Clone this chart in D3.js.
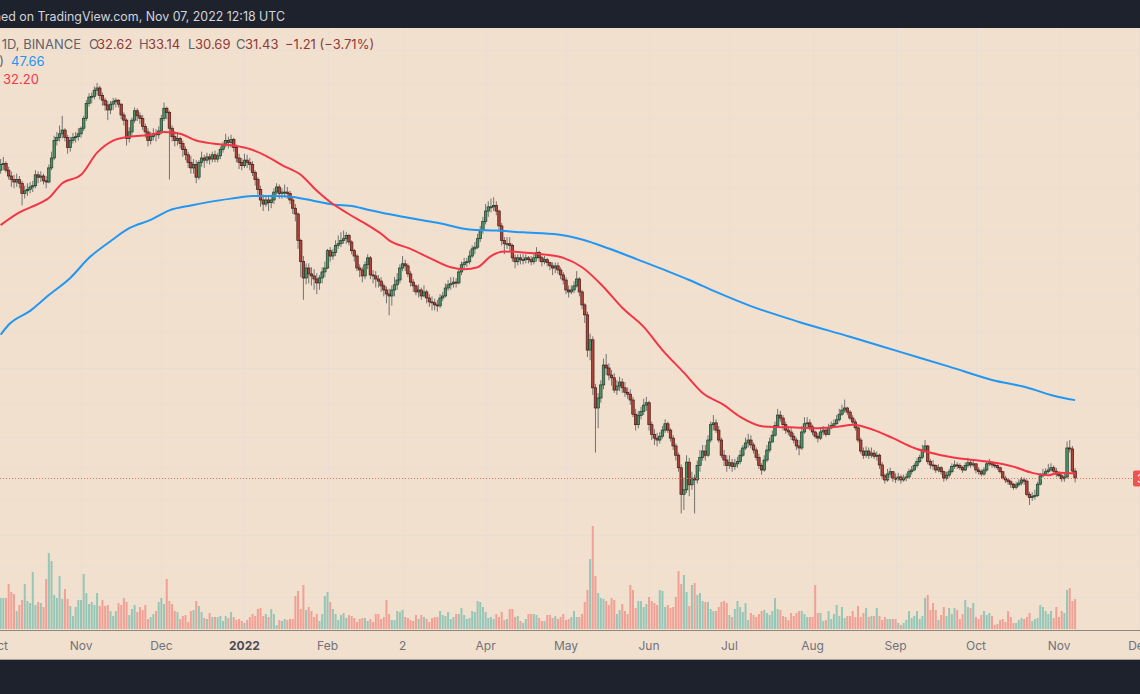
<!DOCTYPE html>
<html><head><meta charset="utf-8">
<script src="https://cdn.jsdelivr.net/npm/d3@7"></script>
<style>
html,body{margin:0;padding:0;background:#1e222d;overflow:hidden;}
svg{display:block;font-family:Inter,"Noto Sans",Roboto,sans-serif;}
</style></head><body>
<svg id="c" width="1140" height="694"></svg>
<script>
// ---------------- DATA (SOL/USDT, 1D, Binance) ----------------
const startDate = "2021-10-01";
const firstOpen = 157;            // open of the first daily candle; later opens = previous close
const closes = [
 163,168,169,163,158,155,153,155,152,144,146,147,149,150,159,157,158,154,153,165,174,191,194,198,202,194,184,191,194,195,198,
 204,215,233,241,242,250,253,243,237,231,225,232,235,237,232,219,213,193,200,213,224,218,215,206,200,191,195,198,197,201,
 215,227,222,204,195,191,193,188,182,177,170,165,168,157,170,174,172,175,173,177,173,176,182,187,191,189,192,184,174,170,167,
 172,170,168,161,155,147,139,136,139,137,139,145,149,144,145,145,144,139,133,129,112,100,91.6,96.6,93.6,92.6,91.1,89.2,91.6,94.6,96.6,
 106,103,105,109,110,112,113,115,111,106,103,96.6,95.6,92.6,98.3,102,93.1,92.6,91.1,90.1,87.8,85.9,84.1,83.2,85.9,88.3,90.6,96.6,
 98.8,97.7,93.6,89.6,87.8,85.0,85.9,83.2,85.0,82.3,80.6,80.2,79.3,78.9,82.3,83.2,86.8,88.3,88.8,89.6,89.2,94.6,98.3,99.4,99.9,103,107,108,113,118,124,
 131,134,134,135,131,121,112,110,110,109,102,99.9,102,101,101,102,101,99.9,102,105,102,99.9,101,99.4,97.7,96.6,97.7,95.6,93.1,90.6,
 85.9,85.0,85.9,87.8,91.1,85.0,79.3,75.2,62.3,65.8,50.9,45.7,48.2,51.7,57.5,56.6,54.5,53.7,50.3,51.4,52.5,50.9,49.7,49.2,47.7,44.2,41.8,43.9,44.9,46.4,47.0,
 41.8,39.7,38.9,38.5,39.3,40.6,42.0,40.6,38.9,37.3,35.5,33.2,28.8,29.5,34.2,30.3,31.4,31.1,33.6,35.1,36.3,35.5,38.5,41.8,42.2,40.6,38.5,35.5,34.6,33.6,
 34.1,33.4,33.9,34.3,35.5,36.9,37.9,38.5,37.5,36.5,35.1,33.6,32.8,34.6,36.5,38.1,39.5,41.6,44.0,43.3,41.8,40.6,40.2,39.3,38.5,37.3,36.9,40.2,42.0,42.2,41.3,
 40.2,39.3,38.9,40.2,40.6,39.7,41.1,41.6,42.0,42.9,44.2,45.2,45.7,44.7,43.3,42.4,41.1,38.5,36.3,35.5,36.3,35.5,35.9,35.3,35.5,33.7,31.8,31.1,32.1,32.5,31.4,
 31.3,31.6,31.1,31.4,31.6,32.5,32.8,33.6,34.3,35.1,36.5,37.3,34.3,33.7,33.6,32.8,33.2,32.5,31.4,31.9,32.5,33.4,33.7,33.6,33.2,32.8,33.6,34.1,33.7,33.9,
 32.8,32.5,32.1,32.8,33.9,34.1,33.7,33.6,33.2,32.5,31.4,31.1,30.8,30.4,29.9,30.3,30.6,31.1,30.9,28.8,28.3,28.5,28.6,30.4,31.8,32.1,32.5,32.8,33.2,32.6,32.1,
 31.8,31.3,31.6,36.9,36.7,32.62,31.43
];
const highs = [
 168,173,175,171,166,162,159,160,158,154,150,152,153,154,163,162,162,160,158,168,180,196,200,207,218,204,197,195,199,200,204,
 206,218,237,246,247,255,260,256,247,240,236,236,240,240,238,233,222,215,205,216,228,227,222,219,209,204,200,204,203,206,
 219,234,229,224,207,201,200,195,191,185,180,176,173,172,172,180,177,179,178,180,181,179,185,190,198,195,197,194,187,178,174,
 178,177,174,171,163,157,150,143,142,142,143,148,152,151,148,151,149,146,141,136,130,113,103,99,99,97,96,94,93,97,100,
 107,108,107,112,115,117,118,117,116,112,107,104,98.5,97,100,104,103,95.5,95,93,92,89,87.5,86.5,88,92,94,98.5,
 103,101,99,95,91,88.5,88.5,87,88,86,84,83,82,81.5,84,85,89,90.5,92,92,91.5,96,100,102,102,106,109,111,116,121,127,
 136,138,140,141,138,132,123,114,114,114,110,104,104,104,104,104,103,103,104,108,106,103,103,102,100,99.5,99.5,99.5,97,94.5,
 92,88,88,90,95,92,86,80,76.5,68,67,52,49.5,53,59.5,61,58,56,55,53,54,53.5,52.5,51,50.5,48.5,45.5,45,46,48,48.5,
 47.5,42.5,40.8,40,40.2,41.5,43,42.5,41,39.5,37.8,36,33.8,31.5,35.5,35,32.5,32,34.5,36.5,37.5,37.5,39.5,42.5,44,43,41.5,39,36.5,35.5,
 35.5,34.8,34.8,35.2,36.5,37.5,39,39.8,39.5,38,37,35.8,34,35.5,37.5,39,40.5,42.5,45.5,45,44,42.5,41.5,41.2,40,39,38.5,41.5,43.5,43.5,43,
 41.8,40.5,40,41,41.5,41,42,42.5,43,44,45.5,46.5,47.8,46,45.2,44,43,41.5,39,37,37.2,37,37,36.5,36.2,35.8,34.2,32.2,33,33.2,32.6,
 32.2,32.3,32,32,32.2,33,33.5,34,35,35.6,37.5,38.5,37.5,34.8,34.6,33.8,33.8,33.5,32.7,32.5,33,34,34.5,34.2,34,33.5,34.2,35,34.6,34.5,
 34,33.3,32.9,33.3,34.3,34.8,34.4,34.2,33.8,33.4,32.6,31.8,31.4,31.1,30.6,30.8,31.2,31.6,31.5,31.2,29.2,29.1,29.5,30.8,32.3,33,33.1,33.9,34,33.6,33.2,
 32.6,32.4,32.2,38.2,38.5,37.3,33.14
];
const lows = [
 154,160,163,161,155,149,148,149,148,135,140,142,144,145,148,152,153,151,148,152,163,172,186,190,193,190,178,180,188,189,191,
 194,201,212,229,233,238,243,238,230,224,213,220,225,228,228,214,207,186,189,196,210,212,209,202,194,185,187,191,190,193,
 198,212,214,155,190,185,186,183,175,172,165,160,160,152,155,166,165,169,168,170,170,170,173,179,184,183,184,180,170,164,163,
 165,165,163,158,150,143,134,131,134,131,133,136,143,140,140,141,140,136,129,124,107,92,81.5,88.5,89,88,86,84,86,89,92,
 96,100,101,103,107,108,110,110,109,104,100,95,92,89.5,91,96,91,89,87,87,85,83,80,75,79,83,86,89,
 95,95,92,87.5,85,83.5,82.5,81.5,82.5,80,78.5,77,77,76.5,78,81,82.5,85.5,86,87,87,88.5,93,96,97,98.5,102,104,107,111,116,
 122,127,130,131,128,118,109,104,107,106,100,96.5,98,98.5,98.5,99,99,98,98.5,100,100,97.5,98.5,97.5,95.5,93,94,93.5,91,88.5,
 84,82.5,84,84.5,87,83,77.5,72,60,59,49,36,41,47,50.5,54.5,53,51.5,49.5,49,50,49.5,48.5,48,46.5,43.5,40.5,41,43,44,45,
 40.5,38.5,37.5,37.2,37.8,38.8,40,40,38.2,36.5,34.5,32.5,26,26.5,29,28.5,29.5,26,30.5,32.5,34.5,34.5,35.2,38,40.5,40,38,35,33.5,32.5,
 33,32.5,32.8,33.2,33.8,35.2,36.5,37,36.8,35.8,34.5,33,32,32.5,34.2,36,38,39.2,41.2,42.5,40.5,39.8,39.5,38.5,37.8,36.5,35.5,36.5,39.8,41,40.5,
 39.5,38.8,38,38.5,39.5,39.2,39.5,40.8,41.2,41.8,42.5,43.8,44.5,44,42.8,41.8,40.5,38,35.8,34.8,35,34.8,35,34.8,34.5,33,31.2,30.5,30.8,31.5,30.8,
 30.6,30.9,30.5,30.8,30.9,31.3,32,32.6,33.2,34,34.8,36,33.8,33,32.8,32.3,32.4,32,30.8,31,31.5,32.2,33,33,32.8,32.3,32.6,33.2,33.2,33.3,
 32.2,32,31.7,31.8,32.5,33.5,33.2,33.1,32.8,32.2,31.2,30.6,30.3,29.8,29.5,29.6,30,30.2,30.3,28.5,27.2,27.8,28,28.4,30.2,31.5,31.8,32.2,32.5,32.3,31.6,
 31.5,30.8,30.8,31.3,36,32.3,30.69
];
// daily volume (relative units, 100k SOL)
const volumes = [
 39,31,31,31,45,37,35,18,24,29,45,28,26,57,24,27,26,22,50,76,68,34,31,53,30,40,30,23,13,22,
 29,29,55,36,25,27,24,36,23,29,23,24,18,13,18,26,24,31,27,14,20,24,17,22,19,24,10,12,15,18,
 27,31,25,50,28,25,18,17,10,13,14,7,18,19,28,23,17,11,10,16,12,12,12,13,8,13,11,17,12,9,
 10,8,6,9,12,15,13,20,21,13,15,12,20,15,4,9,8,10,9,10,10,33,38,20,44,19,22,18,12,15,
 8,15,33,37,27,20,15,9,14,16,11,14,13,11,7,10,11,11,8,10,7,15,15,10,12,29,15,9,9,18,
 17,19,12,11,9,8,14,10,14,12,10,7,11,12,12,18,14,13,17,10,12,15,15,21,14,10,11,18,17,28,
 27,22,17,11,12,10,15,12,17,9,10,20,20,12,13,8,6,10,15,15,15,14,11,8,8,14,14,11,13,10,
 12,15,9,
 10,12,18,12,12,15,27,39,70,103,53,36,31,30,28,24,31,29,15,19,25,18,15,44,39,21,28,28,22,25,
 32,28,26,24,39,38,22,24,21,22,32,58,45,54,37,23,44,46,34,36,28,27,27,20,18,18,22,27,28,26,
 14,12,20,28,22,17,26,9,16,14,12,15,18,19,16,14,18,31,20,19,13,12,9,16,13,16,18,18,15,12,
 12,12,44,16,16,8,9,18,10,15,24,13,22,11,13,13,18,12,23,12,16,21,12,13,13,21,13,9,12,10,
 10,10,10,6,4,6,9,18,11,13,18,10,13,31,34,19,26,19,9,14,22,13,21,15,21,19,10,15,29,22,
 21,26,12,10,14,18,14,16,13,4,5,9,10,7,18,12,6,6,9,11,10,12,16,8,10,11,24,22,18,15,
 18,11,22,12,18,16,39,41,28,30
];
const ma50Dates = ["2021-10-02","2021-10-09","2021-10-17","2021-10-20","2021-10-25","2021-11-01","2021-11-07","2021-11-13","2021-11-19","2021-11-27","2021-12-02","2021-12-08","2021-12-14","2021-12-20","2021-12-28","2022-01-03","2022-01-09","2022-01-15","2022-01-22","2022-01-28","2022-02-02","2022-02-08","2022-02-16","2022-02-21","2022-02-24","2022-03-04","2022-03-11","2022-03-19","2022-03-24","2022-03-29","2022-04-03","2022-04-08","2022-04-15","2022-04-22","2022-04-30","2022-05-07","2022-05-15","2022-05-22","2022-05-30","2022-06-06","2022-06-14","2022-06-21","2022-06-29","2022-07-05","2022-07-14","2022-07-24","2022-08-03","2022-08-11","2022-08-16","2022-08-24","2022-08-31","2022-09-08","2022-09-13","2022-09-22","2022-09-30","2022-10-07","2022-10-15","2022-10-22","2022-10-28","2022-11-01","2022-11-07"];
const ma50Values = [121.5,130,137,140.5,152,159,179,191,195,197,200,198,191,188,186,182.5,176,167.5,159,146,137.5,130,121.5,116,112,107,102,97,96,97,103,105.5,105,104,102,97,87.3,78.1,70.5,62.3,55.2,49.5,46.4,43.6,41.4,41.2,41.0,41.4,41.8,40.6,38.9,36.9,36.1,35.1,34.6,34.2,33.4,32.3,31.9,32.3,32.20];
const ma200Dates = ["2021-10-02","2021-10-05","2021-10-13","2021-10-20","2021-10-28","2021-11-04","2021-11-12","2021-11-19","2021-11-27","2021-12-04","2021-12-12","2021-12-19","2021-12-27","2022-01-04","2022-01-12","2022-01-19","2022-01-27","2022-02-03","2022-02-11","2022-02-17","2022-03-01","2022-03-14","2022-03-26","2022-04-05","2022-04-15","2022-04-28","2022-05-07","2022-05-17","2022-05-27","2022-06-06","2022-06-16","2022-06-26","2022-07-09","2022-07-27","2022-08-15","2022-09-03","2022-09-21","2022-10-07","2022-10-20","2022-10-30","2022-11-07"];
const ma200Values = [67.6,71.3,76.8,83.6,91.6,102,111.5,119.5,125,131.5,135,137.6,140,142,142,141.2,138.3,135.7,134.3,131.5,127,123,118.7,118,116.9,115.6,112.5,107.2,101.5,96,90.6,85,78.8,72.4,66.9,61.6,57,53.1,51,48.8,47.66];
// Axis
const monthTicks = ["2021-10-01","2021-11-01","2021-12-01","2022-01-01","2022-02-01","2022-03-01","2022-04-01","2022-05-01","2022-06-01","2022-07-01","2022-08-01","2022-09-01","2022-10-01","2022-11-01","2022-12-01"];
const monthLabels = ["Oct","Nov","Dec","2022","Feb","2","Apr","May","Jun","Jul","Aug","Sep","Oct","Nov","Dec"];
const gridPrices = [16.6,19.6,23.2,28.1,33.2,39.1,46.9,56.6,68.6,84.1,99.8,118.4,148.2,176.8,215.5,258,310];
// Legend text
const publishedText = "Published on TradingView.com, Nov 07, 2022 12:18 UTC";
const symbolText = "Solana / TetherUS, 1D, BINANCE";
const ohlcLabels = ["O","H","L","C"];
const ohlcValues = ["32.62","33.14","30.69","31.43"];
const changeText = "\u22121.21 (\u22123.71%)";
const ma200Label = "MA (200)"; const ma200Text = "47.66";
const ma50Label = "MA (50)";  const ma50Text = "32.20";
const lastPrice = 31.43;

// ---------------- CHART ----------------
const W = 1140, H = 694;
const plotTop = 28, plotBottom = 630, axisBottom = 660;
const BG = "#f2e0cf", GRID = "#e9ddd4";
const parse = d3.utcParse("%Y-%m-%d");
const svg = d3.select("#c");

const x = d3.scaleUtc().domain([parse("2021-10-01"), parse("2022-12-01")]).range([-2.06, 1139.4]);
const y = d3.scaleLog().domain([13.94, 405.0]).range([plotBottom, 0]);
const yVol = d3.scaleLinear().domain([0, d3.max(volumes)]).range([629, 526]);

const t0 = parse(startDate);
const data = closes.map((c, i) => ({
  date: d3.utcDay.offset(t0, i),
  o: i ? closes[i - 1] : firstOpen, h: highs[i], l: lows[i], c, v: volumes[i]
}));

// backgrounds
svg.append("rect").attr("x",0).attr("y",0).attr("width",W).attr("height",H).attr("fill","#1e222d");
svg.append("rect").attr("x",0).attr("y",plotTop).attr("width",W).attr("height",axisBottom-plotTop).attr("fill",BG);

svg.append("clipPath").attr("id","plot").append("rect")
  .attr("x",0).attr("y",plotTop).attr("width",W).attr("height",plotBottom-plotTop);
const g = svg.append("g").attr("clip-path","url(#plot)");

// grid
g.append("g").selectAll("line").data(monthTicks.map(parse)).join("line")
  .attr("x1", d => Math.round(x(d)) + 0.5).attr("x2", d => Math.round(x(d)) + 0.5)
  .attr("y1", plotTop).attr("y2", plotBottom).attr("stroke", GRID).attr("stroke-width", 1);
g.append("g").selectAll("line").data(gridPrices).join("line")
  .attr("x1", 0).attr("x2", W)
  .attr("y1", d => Math.round(y(d)) + 0.5).attr("y2", d => Math.round(y(d)) + 0.5)
  .attr("stroke", GRID).attr("stroke-width", 1);

// volume
g.append("g").selectAll("rect").data(data).join("rect")
  .attr("x", d => x(d.date) - 1).attr("width", 2)
  .attr("y", d => yVol(d.v)).attr("height", d => yVol(0) - yVol(d.v))
  .attr("fill", d => d.c >= d.o ? "rgba(38,166,154,0.45)" : "rgba(239,83,80,0.45)");

// candles
const cg = g.append("g");
cg.selectAll("line").data(data).join("line")
  .attr("x1", d => x(d.date)).attr("x2", d => x(d.date))
  .attr("y1", d => y(d.h)).attr("y2", d => y(d.l))
  .attr("stroke", "#727272").attr("stroke-width", 1);
cg.selectAll("rect").data(data).join("rect")
  .attr("x", d => x(d.date) - 1.25).attr("width", 2.5)
  .attr("y", d => y(Math.max(d.o, d.c)))
  .attr("height", d => Math.max(1, y(Math.min(d.o, d.c)) - y(Math.max(d.o, d.c))))
  .attr("fill", d => d.c >= d.o ? "#4a9366" : "#b2433a")
  .attr("stroke", d => d.c >= d.o ? "#1f3a29" : "#441a15").attr("stroke-width", 0.7);

// moving averages
const line = d3.line().x(d => x(d[0])).y(d => y(d[1])).curve(d3.curveMonotoneX);
g.append("path").datum(ma200Dates.map((d, i) => [parse(d), ma200Values[i]]))
  .attr("d", line).attr("fill", "none").attr("stroke", "#2196f3").attr("stroke-width", 2);
g.append("path").datum(ma50Dates.map((d, i) => [parse(d), ma50Values[i]]))
  .attr("d", line).attr("fill", "none").attr("stroke", "#f23645").attr("stroke-width", 2);

// last price line + label
const yl = Math.round(y(lastPrice)) + 0.5;
g.append("line").attr("x1", 0).attr("x2", 1133).attr("y1", yl).attr("y2", yl)
  .attr("stroke", "#ef6f68").attr("stroke-width", 1).attr("stroke-dasharray", "1,2");
svg.append("rect").attr("x", 1133).attr("y", yl - 8).attr("width", 60).attr("height", 16).attr("rx", 2)
  .attr("fill", "#ef5350");
svg.append("text").attr("x", 1137).attr("y", yl + 4.5).attr("fill", "#fff").attr("font-size", 12).text(lastPrice.toFixed(2));

// time axis band
svg.append("line").attr("x1",0).attr("x2",W).attr("y1",plotBottom+0.5).attr("y2",plotBottom+0.5).attr("stroke","#8e8780").attr("stroke-width",1);
svg.append("line").attr("x1",0).attr("x2",W).attr("y1",axisBottom-0.5).attr("y2",axisBottom-0.5).attr("stroke","#a8a098").attr("stroke-width",1);
svg.append("g").selectAll("text").data(monthTicks).join("text")
  .attr("x", d => x(parse(d))).attr("y", 650).attr("text-anchor", "middle")
  .attr("font-size", 12)
  .attr("font-weight", (d, i) => monthLabels[i] === "2022" ? 700 : 400)
  .attr("fill", (d, i) => monthLabels[i] === "2022" ? "#4a4d55" : "#6f727b")
  .text((d, i) => monthLabels[i]);

// top bar text
svg.append("text").attr("x", 285).attr("y", 21).attr("text-anchor", "end")
  .attr("fill", "#d1d4dc").attr("font-size", 12.4).text(publishedText);

// legend
const lg = svg.append("g").attr("font-size", 13);
lg.append("text").attr("x", 81).attr("y", 49).attr("text-anchor", "end").attr("fill", "#5f626b").text(symbolText);
const lx = [89, 139, 188, 236], vx = [97, 148, 195, 245];
ohlcLabels.forEach((l, i) => {
  lg.append("text").attr("x", lx[i]).attr("y", 49).attr("fill", "#5f626b").text(l);
  lg.append("text").attr("x", vx[i]).attr("y", 49).attr("fill", "#8f3a35").text(ohlcValues[i]);
});
lg.append("text").attr("x", 285).attr("y", 49).attr("fill", "#8f3a35").text(changeText);
lg.append("text").attr("x", 4).attr("y", 66).attr("text-anchor", "end").attr("fill", "#5f626b").text(ma200Label);
lg.append("text").attr("x", 11).attr("y", 66).attr("fill", "#2196f3").text(ma200Text);
lg.append("text").attr("x", -2).attr("y", 84).attr("text-anchor", "end").attr("fill", "#5f626b").text(ma50Label);
lg.append("text").attr("x", 3).attr("y", 84).attr("fill", "#f23645").text(ma50Text);
</script>
</body></html>
